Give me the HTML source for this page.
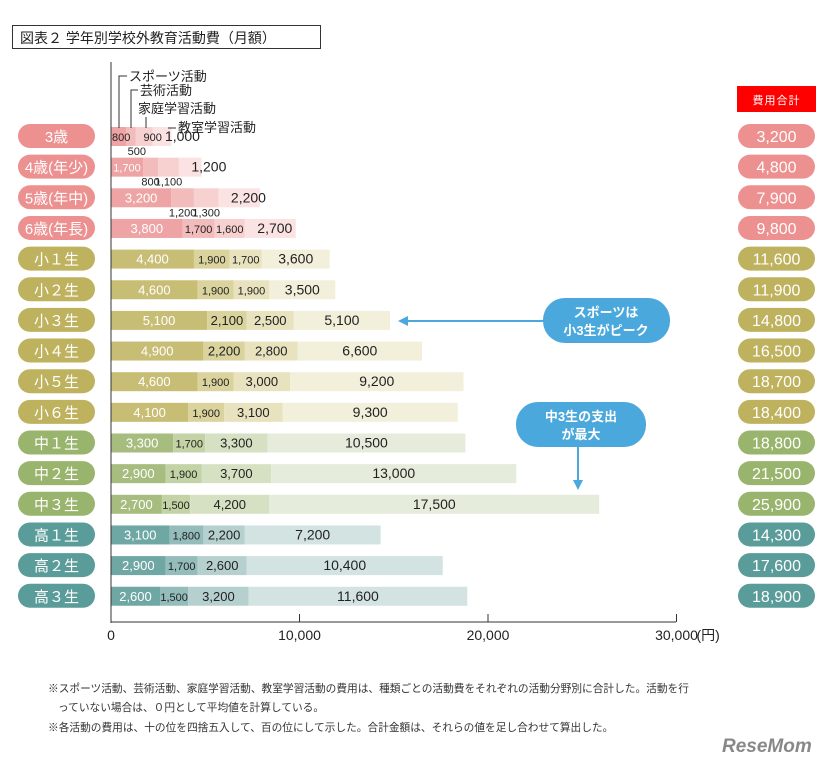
<!DOCTYPE html>
<html><head><meta charset="utf-8">
<style>
body{margin:0;background:#fff;width:833px;height:767px;overflow:hidden;font-family:"Liberation Sans","Noto Sans CJK JP",sans-serif;}
svg text{font-family:"Liberation Sans","Noto Sans CJK JP",sans-serif;}
</style></head>
<body>
<svg id="chart" width="833" height="767" viewBox="0 0 833 767" xmlns="http://www.w3.org/2000/svg">
<rect x="12.5" y="25.5" width="308" height="23" fill="#fff" stroke="#333"/>
<text x="20" y="43" font-size="14" fill="#222">図表２ 学年別学校外教育活動費（月額）</text>
<rect x="737" y="86" width="79" height="26" fill="#f00"/>
<text x="776.5" y="104" font-size="11" fill="#fff" text-anchor="middle" letter-spacing="1">費用合計</text>
<g id="bars"></g>
<g id="labels"></g>
<line x1="111" y1="62" x2="111" y2="623" stroke="#333" stroke-width="1"/>
<line x1="111" y1="622" x2="676" y2="622" stroke="#333" stroke-width="1"/>
<g id="ticks"></g>
<g font-size="13" fill="#222">
<path d="M119 128 V76 H127 M131 128 V90 H138 M146 128 V117 M168 128 H176" stroke="#333" fill="none" stroke-width="1"/>
<text x="129" y="81">スポーツ活動</text>
<text x="140" y="95">芸術活動</text>
<text x="138" y="113">家庭学習活動</text>
<text x="178" y="132">教室学習活動</text>
</g>
<g>
<line x1="403" y1="321" x2="543" y2="321" stroke="#4aa8dc" stroke-width="2"/>
<path d="M398 321 L408 316 L408 326 Z" fill="#4aa8dc"/>
<rect x="543" y="298" width="127" height="45" rx="22" fill="#4aa8dc"/>
<text x="606" y="317" font-size="13" font-weight="bold" fill="#fff" text-anchor="middle">スポーツは</text>
<text x="606" y="335" font-size="13" font-weight="bold" fill="#fff" text-anchor="middle">小3生がピーク</text>
</g>
<g>
<line x1="578" y1="447" x2="578" y2="484" stroke="#4aa8dc" stroke-width="2"/>
<path d="M578 490 L573 480 L583 480 Z" fill="#4aa8dc"/>
<rect x="516" y="402" width="130" height="45" rx="22" fill="#4aa8dc"/>
<text x="581" y="421" font-size="13" font-weight="bold" fill="#fff" text-anchor="middle">中3生の支出</text>
<text x="581" y="439" font-size="13" font-weight="bold" fill="#fff" text-anchor="middle">が最大</text>
</g>
<g font-size="10.7" fill="#333">
<text x="48" y="692">※スポーツ活動、芸術活動、家庭学習活動、教室学習活動の費用は、種類ごとの活動費をそれぞれの活動分野別に合計した。活動を行</text>
<text x="58" y="711">っていない場合は、０円として平均値を計算している。</text>
<text x="48" y="731">※各活動の費用は、十の位を四捨五入して、百の位にして示した。合計金額は、それらの値を足し合わせて算出した。</text>
</g>
<text x="722" y="752" font-size="19" font-weight="bold" fill="#888" font-style="italic">ReseMom</text>
</svg>
<script>
const categories=["3歳","4歳(年少)","5歳(年中)","6歳(年長)","小１生","小２生","小３生","小４生","小５生","小６生","中１生","中２生","中３生","高１生","高２生","高３生"];
const sports=[800,1700,3200,3800,4400,4600,5100,4900,4600,4100,3300,2900,2700,3100,2900,2600];
const arts=[500,800,1200,1700,1900,1900,2100,2200,1900,1900,1700,1900,1500,1800,1700,1500];
const homeStudy=[900,1100,1300,1600,1700,1900,2500,2800,3000,3100,3300,3700,4200,2200,2600,3200];
const classStudy=[1000,1200,2200,2700,3600,3500,5100,6600,9200,9300,10500,13000,17500,7200,10400,11600];
const totals=[3200,4800,7900,9800,11600,11900,14800,16500,18700,18400,18800,21500,25900,14300,17600,18900];
const groups=[0,0,0,0,1,1,1,1,1,1,2,2,2,3,3,3];
const xTicks=[0,10000,20000,30000];
const NS="http://www.w3.org/2000/svg";
const pal=[
 {lab:"#ec9090",seg:["#eea4a4","#f3bcbc","#f7d0d0","#fbe3e3"]},
 {lab:"#bfb25e",seg:["#c8bd74","#dbd39d","#e8e2bf","#f2efdb"]},
 {lab:"#99b46c",seg:["#a6bd7f","#c3d3a6","#d6e1c3","#e6ecdb"]},
 {lab:"#5a9c99",seg:["#6ea7a4","#93bcba","#b5d0ce","#d3e3e2"]}];
const x=v=>111+v*0.01885;
const y=i=>136+i*30.65;
function mk(tag,attrs,parent){const e=document.createElementNS(NS,tag);for(const k in attrs)e.setAttribute(k,attrs[k]);parent.appendChild(e);return e;}
const fmt=v=>v.toLocaleString("en-US");
const g=document.getElementById("bars");
const gl=document.getElementById("labels");
categories.forEach((c,i)=>{
 const p=pal[groups[i]];const cy=y(i);
 const lab=mk("rect",{x:18,y:cy-12,width:77,height:24,rx:12,fill:p.lab},g);
 
 
 const lt=mk("text",{x:56.5,y:cy+6,"font-size":15,fill:"#fff","text-anchor":"middle"},gl);lt.textContent=c;
 
 
 const vals=[sports[i],arts[i],homeStudy[i],classStudy[i]];
 let acc=0;
 const tiny=vals[0]<1000;
 vals.forEach((v,k)=>{
  const r=mk("rect",{x:x(acc),y:cy-9,width:x(acc+v)-x(acc),height:19,fill:p.seg[k]},g);
  
  
  const below=(groups[i]===0&&(k===1||k===2)&&v<1500)&&!(tiny&&k===2);
  const mid=(x(acc)+x(acc+v))/2;
  let tx=k===3?Math.max(mid,x(acc)+30):mid, ty=below?cy+19:cy+5, fs=k===3?14:(v<2000?11:13);
  if(tiny&&k===0){tx=x(acc)+1;}
  if(tiny&&k===2){tx=x(acc)+8;}
  if(tiny&&k===1){tx=mid+6;}
  const dark=(k!==0)||tiny;
  const t=mk("text",{x:tx,y:ty,"font-size":fs,fill:dark?"#222":"#fff","text-anchor":(tiny&&(k===0||k===2))?"start":"middle"},gl);
  t.textContent=fmt(v);
  
  
  acc+=v;
 });
 const tp=mk("rect",{x:738,y:cy-12,width:77,height:24,rx:12,fill:p.lab},g);
 
 
 const tt=mk("text",{x:776.5,y:cy+6,"font-size":16,fill:"#fff","text-anchor":"middle"},gl);tt.textContent=fmt(totals[i]);
 
 
});
const tg=document.getElementById("ticks");
xTicks.forEach(v=>{
 const l=mk("line",{x1:x(v),y1:614,x2:x(v),y2:622,stroke:"#333"},tg);
 
 
 const t=mk("text",{x:x(v),y:640,"font-size":14,fill:"#222","text-anchor":"middle"},tg);
 t.textContent=fmt(v);
 
 
});
const u=mk("text",{x:x(30000)+20,y:640,"font-size":14,fill:"#222"},tg);u.textContent="(円)";


</script>
</body></html>
